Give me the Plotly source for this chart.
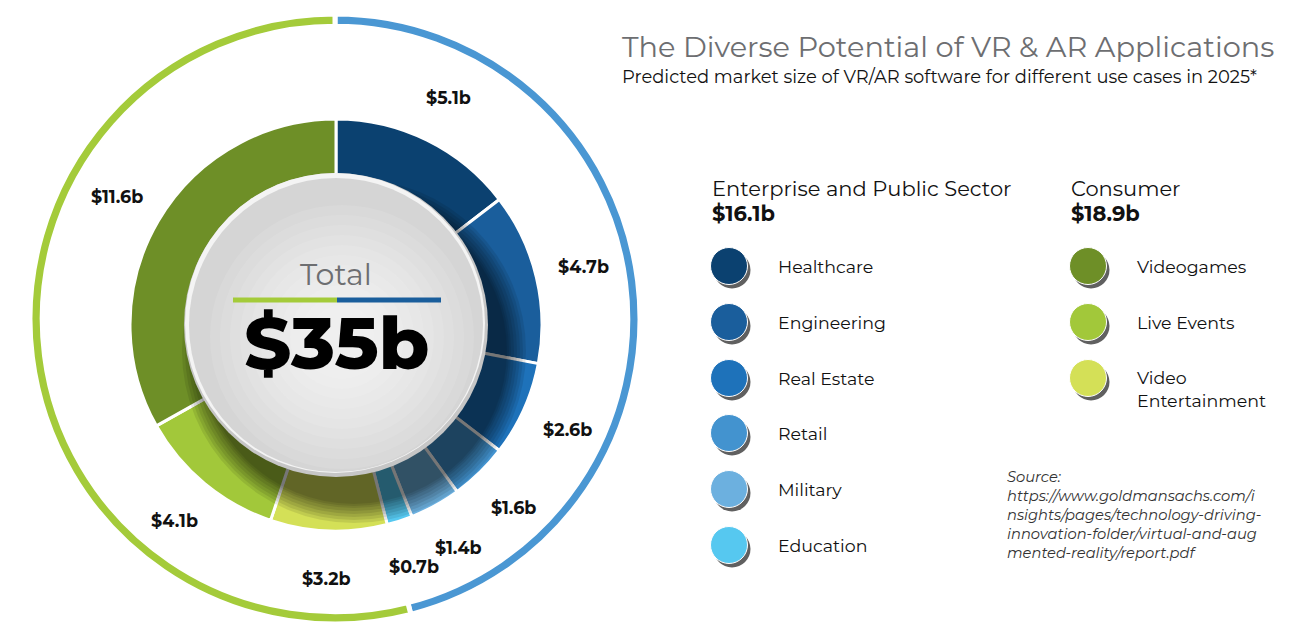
import math
import plotly.graph_objects as go

W, H = 1297, 624
OFF = 8  # the page body margin that offsets the figure inside the window

# ---------------- data ----------------
segments = ["Healthcare", "Engineering", "Real Estate", "Retail", "Military",
            "Education", "Video Entertainment", "Live Events", "Videogames"]
values = [5.1, 4.7, 2.6, 1.6, 1.4, 0.7, 3.2, 4.1, 11.6]
groups = ["Enterprise", "Enterprise", "Enterprise", "Enterprise", "Enterprise",
          "Enterprise", "Consumer", "Consumer", "Consumer"]
seg_colors = ["#0b4170", "#1a5e9c", "#1e72ba", "#4393cf", "#6cb0df",
              "#56c8f0", "#d4e057", "#a2c83a", "#6e8f27"]

group_keys = ["Enterprise", "Consumer"]
group_titles = ["Enterprise and Public Sector", "Consumer"]
group_colors = ["#4a97d3", "#a4cb3a"]

enterprise_legend = ["Healthcare", "Engineering", "Real Estate", "Retail", "Military", "Education"]
consumer_legend = ["Videogames", "Live Events", "Video Entertainment"]
consumer_legend_text = ["Videogames", "Live Events", "Video<br>Entertainment"]

title = "The Diverse Potential of VR & AR Applications"
subtitle = "Predicted market size of VR/AR software for different use cases in 2025*"
source_text = ("Source:<br>https://www.goldmansachs.com/i<br>nsights/pages/technology-driving-"
               "<br>innovation-folder/virtual-and-aug<br>mented-reality/report.pdf")

group_totals = [sum(v for v, g in zip(values, groups) if g == k) for k in group_keys]
total = sum(values)

FONT = "Montserrat, Open Sans, sans-serif"

# ---------------- geometry (page pixels) ----------------
CX, CY, R = 336, 325, 206        # main donut
CX2, CY2, R2 = 335, 319, 305     # outer thin ring
DISC_R = 152


def dom(cx, cy, r):
    cx -= OFF
    cy -= OFF
    return dict(x=[(cx - r) / W, (cx + r) / W], y=[1 - (cy + r) / H, 1 - (cy - r) / H])


fig = go.Figure()
# invisible cartesian trace -> pixel coordinate system for decorations
fig.add_trace(go.Scatter(x=[], y=[], showlegend=False, hoverinfo="skip"))

fig.add_trace(go.Pie(
    values=group_totals, labels=group_titles, sort=False, direction="clockwise",
    rotation=0, hole=0.96, textinfo="none", showlegend=False, hoverinfo="skip",
    marker=dict(colors=group_colors, line=dict(color="white", width=5)),
    domain=dom(CX2, CY2, R2)))

fig.add_trace(go.Pie(
    values=values, labels=segments, sort=False, direction="clockwise",
    rotation=0, hole=0.7, textinfo="none", showlegend=False,
    marker=dict(colors=seg_colors, line=dict(color="white", width=3)),
    domain=dom(CX, CY, R)))

shapes = []


def circle(cx, cy, r, fill, opacity=1.0, line_color=None, line_width=0):
    return dict(type="circle", xref="x", yref="y", x0=cx - r, x1=cx + r, y0=cy - r, y1=cy + r,
                fillcolor=fill, opacity=opacity, layer="above",
                line=dict(color=line_color or fill, width=line_width))


# shadow of the centre disc on the donut (lower right)
for dr in [20, 17, 14, 11, 8, 5, 3, 1]:
    shapes.append(circle(CX + 18, CY + 26, DISC_R + dr, "black", 0.09))
# disc with rim and a soft light gradient
shapes.append(circle(CX, CY, DISC_R, "#c6c6c6"))
shapes.append(circle(CX - 1, CY - 2, DISC_R - 2, "#f4f4f4"))
shapes.append(circle(CX, CY, DISC_R - 5, "#d5d5d5"))
for r in [132, 122, 112, 102, 92, 82, 72, 62, 52, 42, 32]:
    shapes.append(circle(CX + 6, CY + 12, r, "white", 0.1))

# green / blue bar under "Total"
shapes.append(dict(type="line", xref="x", yref="y", x0=233, x1=337, y0=300, y1=300,
                   line=dict(color=group_colors[1], width=5), layer="above"))
shapes.append(dict(type="line", xref="x", yref="y", x0=337, x1=441, y0=300, y1=300,
                   line=dict(color="#1a5e9c", width=5), layer="above"))

annotations = []


def ann(x, y, text, size, color="#1a1a1a", xanchor="left", yanchor="middle", align="left",
        italic=False, weight="normal"):
    annotations.append(dict(x=x, y=y, xref="x", yref="y", text=text, showarrow=False,
                            xanchor=xanchor, yanchor=yanchor, align=align,
                            font=dict(family=FONT, size=size, color=color, weight=weight,
                                      style="italic" if italic else "normal")))


# centre text
ann(CX, 274, "Total", 30, "#6d6e71", xanchor="center")
ann(CX, 342, "$%gb" % round(total), 73, "#000000", xanchor="center", weight=800)

# value labels around the donut (at each slice's mid angle)
LABEL_R = 254
cum = 0.0
for v in values:
    mid = (cum + v / 2) / total * 2 * math.pi
    cum += v
    lx = CX + LABEL_R * math.sin(mid)
    ly = CY - LABEL_R * math.cos(mid)
    ann(lx, ly, "$%.1fb" % v, 17.5, "#111111", xanchor="center", weight="bold")

# titles
ann(620, 46, title, 28.8, "#6d6e71")
ann(620, 76, subtitle, 17.9, "#111111")

# legend groups
col_x = [710, 1069]
for i in range(2):
    ann(col_x[i], 188, group_titles[i], 21, "#111111")
    ann(col_x[i], 213, "$%.1fb" % group_totals[i], 21, "#111111", weight="bold")


def legend_dot(cx, cy, color):
    shapes.append(circle(cx + 3, cy + 4, 18.5, "#2b2b2b", 0.75))
    shapes.append(circle(cx, cy, 18.5, color, 1.0, "white", 1))


row_y = [266, 322, 378, 433, 489, 545]
for i, name in enumerate(enterprise_legend):
    legend_dot(729, row_y[i], seg_colors[segments.index(name)])
    ann(776, row_y[i], name, 17.4, "#111111")
for i, name in enumerate(consumer_legend):
    legend_dot(1088, row_y[i], seg_colors[segments.index(name)])
    ann(1135, row_y[i] + (11 if "<br>" in consumer_legend_text[i] else 0),
        consumer_legend_text[i], 17.4, "#111111")

ann(1005, 466, source_text, 14.7, "#333333", yanchor="top", italic=True)

fig.update_layout(
    width=W, height=H, margin=dict(l=0, r=0, t=0, b=0),
    paper_bgcolor="white", plot_bgcolor="white",
    xaxis=dict(range=[OFF, W + OFF], visible=False, fixedrange=True, domain=[0, 1]),
    yaxis=dict(range=[H + OFF, OFF], visible=False, fixedrange=True, domain=[0, 1]),
    shapes=shapes, annotations=annotations, showlegend=False,
)

fig.write_html("out.html")
